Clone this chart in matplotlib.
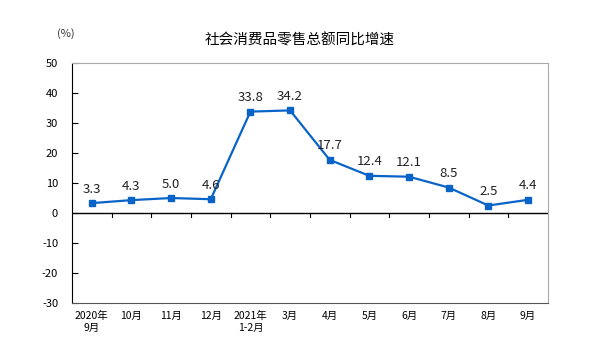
import matplotlib.pyplot as plt

plt.rcParams['font.family'] = ['Noto Sans CJK SC', 'DejaVu Sans']
plt.rcParams['axes.unicode_minus'] = False

months = ['2020年\n9月', '10月', '11月', '12月', '2021年\n1-2月', '3月',
          '4月', '5月', '6月', '7月', '8月', '9月']
growth = [3.3, 4.3, 5.0, 4.6, 33.8, 34.2, 17.7, 12.4, 12.1, 8.5, 2.5, 4.4]

fig = plt.figure(figsize=(6, 3.54), dpi=100)
ax = fig.add_axes([0.12, 0.144, 0.793, 0.678])

x = list(range(len(months)))
ax.plot(x, growth, color='#0A64C8', lw=1.6, marker='s', ms=4.5, zorder=3)
for xi, v in zip(x, growth):
    ax.text(xi, v + 2.5, f'{v:.1f}', ha='center', va='bottom', fontsize=9.5,
            color='#222222')

ax.set_xlim(-0.5, len(months) - 0.5)
ax.set_ylim(-30, 50)
ax.set_yticks(range(-30, 51, 10))
ax.tick_params(axis='y', direction='in', length=4, labelsize=8, pad=10)
ax.set_xticks([])

# zero line with ticks between categories
ax.axhline(0, color='black', lw=1, zorder=2)
for b in range(1, len(months)):
    ax.plot([b - 0.5, b - 0.5], [0, -1.3], color='black', lw=0.8)

for xi, lab in zip(x, months):
    ax.text(xi, -32.5, lab, ha='center', va='top', fontsize=7.5,
            linespacing=1.3)

ax.spines['left'].set_color('black')
ax.spines['bottom'].set_color('#555555')
ax.spines['top'].set_color('#aaaaaa')
ax.spines['right'].set_color('#aaaaaa')

fig.text(0.5, 0.875, '社会消费品零售总额同比增速', ha='center', fontsize=10.5,
         fontweight='medium')
fig.text(0.095, 0.895, '(%)', ha='left', fontsize=8, color='#333333')

fig.savefig('out.png', dpi=100)
